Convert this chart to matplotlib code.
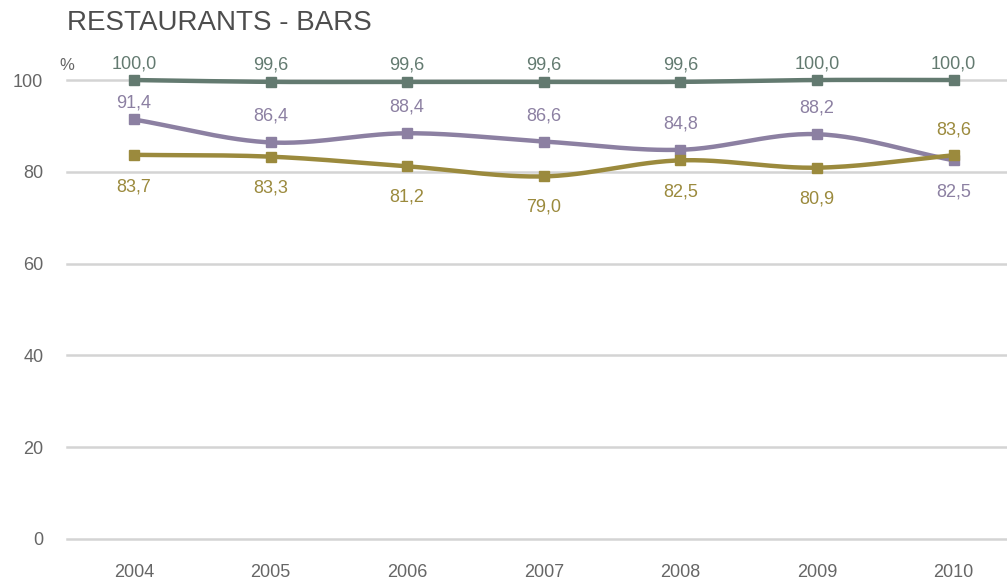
import numpy as np
import matplotlib.pyplot as plt

plt.rcParams['font.family'] = ['Liberation Sans', 'DejaVu Sans']

years = [2004, 2005, 2006, 2007, 2008, 2009, 2010]
serie_a = [100.0, 99.6, 99.6, 99.6, 99.6, 100.0, 100.0]
serie_b = [91.4, 86.4, 88.4, 86.6, 84.8, 88.2, 82.5]
serie_c = [83.7, 83.3, 81.2, 79.0, 82.5, 80.9, 83.6]
y_ticks = [0, 20, 40, 60, 80, 100]


def smooth(x, y, n=30):
    # catmull-rom through the points, like the "smoothed line" option of office charts
    x = np.asarray(x, float)
    y = np.asarray(y, float)
    px = np.concatenate([[2 * x[0] - x[1]], x, [2 * x[-1] - x[-2]]])
    py = np.concatenate([[2 * y[0] - y[1]], y, [2 * y[-1] - y[-2]]])
    xs, ys = [], []
    t = np.linspace(0, 1, n)
    for i in range(1, len(px) - 2):
        for p, out in ((px, xs), (py, ys)):
            p0, p1, p2, p3 = p[i - 1], p[i], p[i + 1], p[i + 2]
            out.extend(0.5 * (2 * p1 + (-p0 + p2) * t
                              + (2 * p0 - 5 * p1 + 4 * p2 - p3) * t ** 2
                              + (-p0 + 3 * p1 - 3 * p2 + p3) * t ** 3))
    return xs, ys


fig = plt.figure(figsize=(10.07, 5.82), dpi=100)
ax = fig.add_axes([0.0665, 0.0739, 0.9335, 0.7886])

for v in y_ticks:
    ax.axhline(v, color='#d4d4d4', lw=1.8, zorder=0, clip_on=False)

colors = ['#637a70', '#8c80a2', '#9b8a3d']
series = [serie_a, serie_b, serie_c]
# label offsets in pixels (positive = above the marker)
offsets = [
    [16, 17, 17, 17, 17, 16, 16],
    [16, 26, 26, 26, 26, 26, -32],
    [-32, -31, -31, -31, -32, -31, 25],
]

for vals, col, offs in zip(series, colors, offsets):
    sx, sy = smooth(years, vals)
    ax.plot(sx, sy, color=col, lw=3.2, clip_on=False, zorder=3)
    ax.plot(years, vals, 's', color=col, ms=7.5, clip_on=False, zorder=4)
    for yr, v, off in zip(years, vals, offs):
        ax.annotate(f'{v:.1f}'.replace('.', ','), (yr, v),
                    xytext=(0, off * 0.72), textcoords='offset points',
                    ha='center', va='center', color=col, fontsize=13)

ax.set_xlim(2003.51, 2010.39)
ax.set_ylim(0, 100)
ax.set_xticks(years)
ax.set_yticks(y_ticks)
ax.tick_params(length=0, labelsize=13, colors='#666666')
ax.tick_params(axis='y', pad=17)
ax.tick_params(axis='x', pad=18)
for s in ax.spines.values():
    s.set_visible(False)

fig.text(0.066, 0.888, '%', color='#666666', fontsize=12, ha='center', va='center')
fig.text(0.067, 0.960, 'RESTAURANTS - BARS', color='#4d4d4d', fontsize=20,
         ha='left', va='center')

fig.savefig('out.png', dpi=100)
